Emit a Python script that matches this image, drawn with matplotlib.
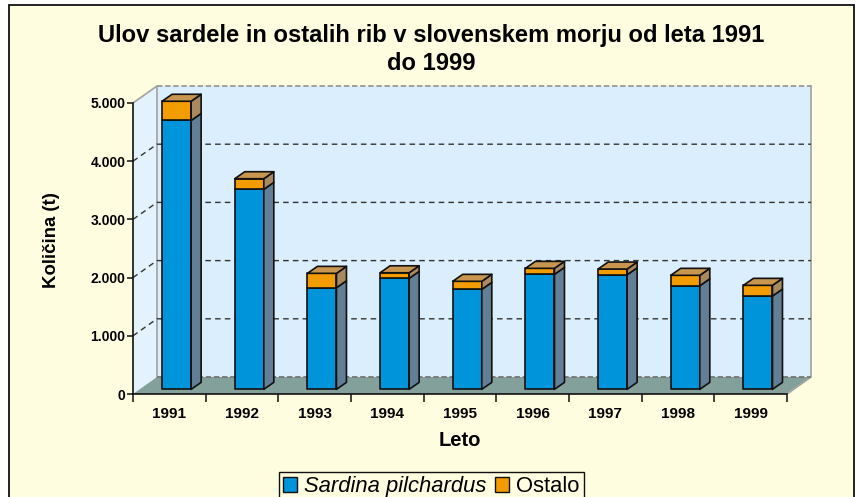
#!/usr/bin/env python3
"""Ulov sardele - stacked pseudo 3D bars."""

import matplotlib

matplotlib.use("Agg")
import matplotlib.pyplot as plt
from matplotlib.patches import Patch, Polygon, Rectangle

plt.rcParams["font.family"] = ["Liberation Sans", "DejaVu Sans"]

years = ["1991", "1992", "1993", "1994", "1995", "1996", "1997", "1998", "1999"]
sardina = [4620, 3436, 1746, 1907, 1718, 1976, 1969, 1780, 1603]
ostalo = [330, 183, 247, 96, 138, 103, 98, 179, 184]
y_ticks = [0, 1000, 2000, 3000, 4000, 5000]
y_labels = ["0", "1.000", "2.000", "3.000", "4.000", "5.000"]

W, H = 861, 497
BG = "#FFFDE0"
WALL = "#DBEEFD"
SIDE_WALL = "#E4F2FD"
FLOOR = "#83A09B"
BLUE = "#0095DA"
BLUE_SIDE = "#627F96"
ORANGE = "#F39C00"
ORANGE_SIDE = "#A98A60"
ORANGE_TOP = "#C99650"

# globina "3D" v enotah podatkov
DEPTH_X = 24 / 72.67
DEPTH_Y = 292
BAR_LEFT = 0.4
BAR_W = 0.4
BAR_BASE = 80
BAR_DX = 10 / 72.67
BAR_DY = 120

fig = plt.figure(figsize=(W / 100, H / 100), dpi=100, facecolor="white")
fig.add_artist(
    Rectangle(
        (9 / W, -0.05), 845 / W, 1 - 5 / H + 0.05,
        transform=fig.transFigure, facecolor=BG, edgecolor="#111111", linewidth=1.3,
        zorder=-5,
    )
)

ax = fig.add_axes([133 / W, (H - 394) / H, 654 / W, 291 / H])
ax.set_xlim(0, len(years))
ax.set_ylim(0, 5000)
ax.patch.set_alpha(0)
for side in ("top", "right"):
    ax.spines[side].set_visible(False)
for side in ("left", "bottom"):
    ax.spines[side].set_color("#111111")
    ax.spines[side].set_linewidth(1.2)
    ax.spines[side].set_zorder(20)

n = len(years)


def poly(points, face, edge="none", lw=0.0, z=1):
    ax.add_patch(
        Polygon(points, closed=True, facecolor=face, edgecolor=edge, linewidth=lw,
                zorder=z, clip_on=False, joinstyle="round")
    )


# stene in tla
poly([(DEPTH_X, DEPTH_Y), (n + DEPTH_X, DEPTH_Y), (n + DEPTH_X, 5000 + DEPTH_Y), (DEPTH_X, 5000 + DEPTH_Y)], WALL)
poly([(0, 0), (DEPTH_X, DEPTH_Y), (DEPTH_X, 5000 + DEPTH_Y), (0, 5000)], SIDE_WALL)
poly([(0, 0), (n, 0), (n + DEPTH_X, DEPTH_Y), (DEPTH_X, DEPTH_Y)], FLOOR)
ax.plot([0, DEPTH_X, DEPTH_X], [5000, 5000 + DEPTH_Y, DEPTH_Y], color="#A6A6A6", lw=1.3, zorder=2, clip_on=False)
ax.plot([n + DEPTH_X, n + DEPTH_X, n], [5000 + DEPTH_Y, DEPTH_Y, 0], color="#A6A6A6", lw=1.3, zorder=2, clip_on=False)
ax.plot([DEPTH_X, n + DEPTH_X], [DEPTH_Y, DEPTH_Y], color="#777777", lw=1.3, ls=(0, (3, 1.5)), zorder=2, clip_on=False)
ax.plot([DEPTH_X, n + DEPTH_X], [5000 + DEPTH_Y] * 2, color="#999999", lw=1.3, ls=(0, (3, 1.5)), zorder=2, clip_on=False)

# mreza
for v in y_ticks[1:-1]:
    ax.plot([0, DEPTH_X, n + DEPTH_X], [v, v + DEPTH_Y, v + DEPTH_Y], color="#333333", lw=1.0,
            ls=(0, (4, 3)), zorder=2, clip_on=False)

# stolpci
for i in range(n):
    left = i + BAR_LEFT
    right = left + BAR_W
    y0 = BAR_BASE
    y1 = y0 + sardina[i]
    y2 = y1 + ostalo[i]
    for low, high, face, side in ((y0, y1, BLUE, BLUE_SIDE), (y1, y2, ORANGE, ORANGE_SIDE)):
        poly([(left, low), (right, low), (right, high), (left, high)], face, "#111111", 1.2, 5)
        poly([(right, low), (right + BAR_DX, low + BAR_DY), (right + BAR_DX, high + BAR_DY), (right, high)],
             side, "#111111", 1.2, 5)
    poly([(left, y2), (right, y2), (right + BAR_DX, y2 + BAR_DY), (left + BAR_DX, y2 + BAR_DY)],
         ORANGE_TOP, "#111111", 1.2, 5)

# osi
ax.set_yticks(y_ticks)
ax.set_yticklabels(y_labels, fontsize=10, fontweight="bold")
ax.set_xticks(range(n + 1))
ax.set_xticklabels([])
ax.set_xticks([i + 0.5 for i in range(n)], minor=True)
ax.set_xticklabels(years, minor=True, fontsize=11, fontweight="bold")
ax.tick_params(axis="y", length=4.5, width=1.1, color="#111111", pad=1)
ax.tick_params(axis="x", which="major", length=6, width=1.1, color="#111111")
ax.tick_params(axis="x", which="minor", length=0, pad=9.2)

fig.text(52 / W, 1 - 240 / H, "Količina (t)", rotation=90, ha="center", va="center",
         fontsize=13.4, fontweight="bold")
fig.text(460 / W, 1 - 440 / H, "Leto", ha="center", va="center", fontsize=14.5, fontweight="bold")
fig.text(431 / W, 1 - 49.5 / H, "Ulov sardele in ostalih rib v slovenskem morju od leta 1991\ndo 1999",
         ha="center", va="center", fontsize=17.1, fontweight="bold", linespacing=1.27)

leg = fig.legend(
    handles=[Patch(facecolor=BLUE, edgecolor="#111111", label="Sardina pilchardus"),
             Patch(facecolor=ORANGE, edgecolor="#111111", label="Ostalo")],
    loc="upper center", bbox_to_anchor=(431 / W, 1 - 472 / H), ncol=2, frameon=True,
    fontsize=15.8, fancybox=False, framealpha=1, facecolor=BG, edgecolor="#111111",
    handlelength=0.65, handleheight=0.65, handletextpad=0.3, columnspacing=0.4,
    borderpad=0.2, borderaxespad=0,
)
leg.get_texts()[0].set_fontstyle("italic")

fig.savefig("out.png", dpi=100)
